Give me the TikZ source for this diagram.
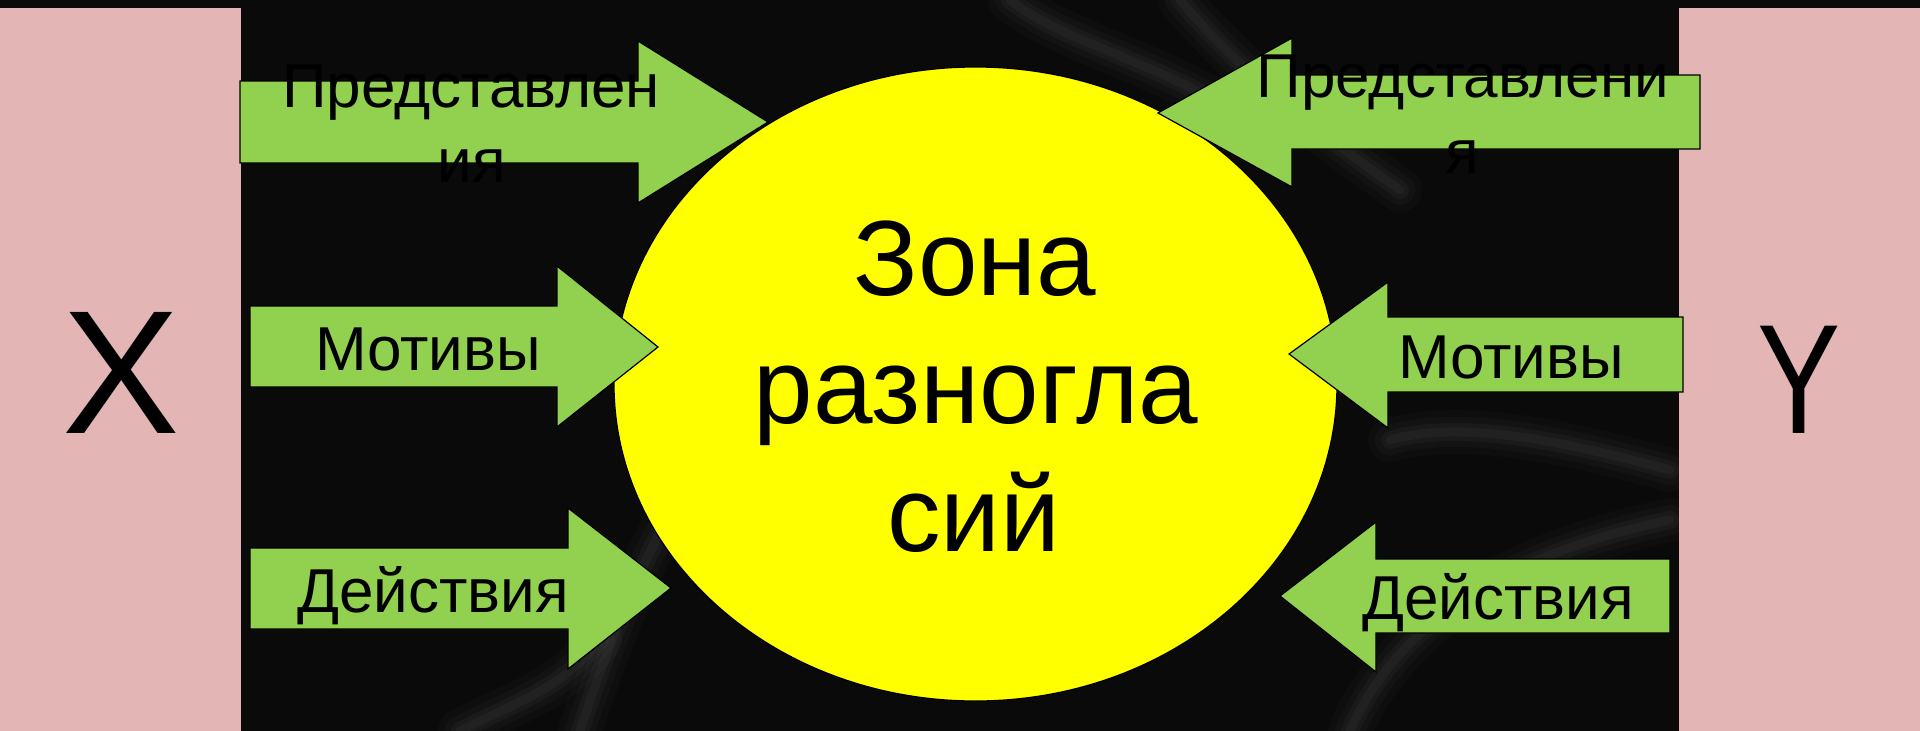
\documentclass[tikz,border=0pt]{standalone}
\usepackage{fontspec}
\setmainfont{Liberation Sans}
\usetikzlibrary{shapes.geometric}
\definecolor{bgblack}{HTML}{0A0A0A}
\definecolor{pinkbox}{HTML}{E3B5B5}
\definecolor{argreen}{HTML}{92D050}
\definecolor{zoneyellow}{HTML}{FFFF00}
\begin{document}
\begin{tikzpicture}[x=1pt,y=-1pt,
  arr/.style={fill=argreen, draw=black, line width=1.2pt, line join=miter},
  lbl/.style={font=\fontsize{62}{75}\selectfont, inner sep=0pt, anchor=base, text=black},
  zlbl/.style={font=\fontsize{107}{128}\selectfont, inner sep=0pt, anchor=base, text=black},
  side/.style={fill=pinkbox},
  swirl/.style={line cap=round, draw=white}]
\fill[bgblack] (0,0) rectangle (1920,731);
\useasboundingbox (0,0) rectangle (1920,731);
% background texture (soft)
\foreach \w/\o in {44/0.02,30/0.025,18/0.03,9/0.03}{
  \draw[swirl, line width=\w pt, opacity=\o] (1010,0) .. controls (1060,40) and (1150,60) .. (1230,110);
  \draw[swirl, line width=\w pt, opacity=\o] (580,731) .. controls (610,640) and (640,560) .. (690,480);
  \draw[swirl, line width=\w pt, opacity=\o] (1350,731) .. controls (1390,640) and (1480,560) .. (1670,520);
  \draw[swirl, line width=\w pt, opacity=\o] (1390,440) .. controls (1460,420) and (1560,440) .. (1670,470);
  \draw[swirl, line width=\w pt, opacity=\o] (460,731) .. controls (520,700) and (560,690) .. (600,640);
  \draw[swirl, line width=\w pt, opacity=\o] (1180,0) .. controls (1230,60) and (1300,120) .. (1400,190);
}
% side boxes
\fill[side] (0,8) rectangle (241,731);
\fill[side] (1679,8) rectangle (1920,731);
\node (X) [font=\fontsize{176}{200}\selectfont, inner sep=0pt, anchor=base] at (121,433) {X};
\node (Y) [font=\fontsize{156}{180}\selectfont, inner sep=0pt, anchor=base, xscale=0.8] at (1799,433) {Y};
% central zone
\node (zone) [ellipse, draw=black, line width=1.2pt, fill=zoneyellow, minimum width=723pt, minimum height=634pt, inner sep=0pt] at (975.5,384) {};
\node (z1) [zlbl] at (975,295) {Зона};
\node (z2) [zlbl] at (976,423) {разногла};
\node (z3) [zlbl] at (974,551) {сий};
% left arrows (pointing right)
\draw[arr] (240,81) -- (638,81) -- (638,41) -- (768,122) -- (638,203) -- (638,163) -- (240,163) -- cycle;
\draw[arr] (250,306) -- (557,306) -- (557,266) -- (658,347) -- (557,427) -- (557,387) -- (250,387) -- cycle;
\draw[arr] (250,548) -- (568,548) -- (568,508) -- (671,588) -- (568,669) -- (568,629) -- (250,629) -- cycle;
% right arrows (pointing left)
\draw[arr] (1700,75) -- (1292,75) -- (1292,38) -- (1158,113) -- (1292,187) -- (1292,149) -- (1700,149) -- cycle;
\draw[arr] (1683,317) -- (1388,317) -- (1388,282) -- (1289,354) -- (1388,428) -- (1388,392) -- (1683,392) -- cycle;
\draw[arr] (1670,559) -- (1376,559) -- (1376,522) -- (1280,596) -- (1376,672) -- (1376,633) -- (1670,633) -- cycle;
% labels
\node (l1a) [lbl] at (471,107) {Представлен};
\node (l1b) [lbl] at (472,182) {ия};
\node (l2) [lbl] at (428,370) {Мотивы};
\node (l3) [lbl] at (433,612) {Действия};
\node (r1a) [lbl] at (1463,97) {Представлени};
\node (r1b) [lbl] at (1462,173) {я};
\node (r2) [lbl] at (1511,378) {Мотивы};
\node (r3) [lbl] at (1498,619) {Действия};
\end{tikzpicture}
\end{document}
